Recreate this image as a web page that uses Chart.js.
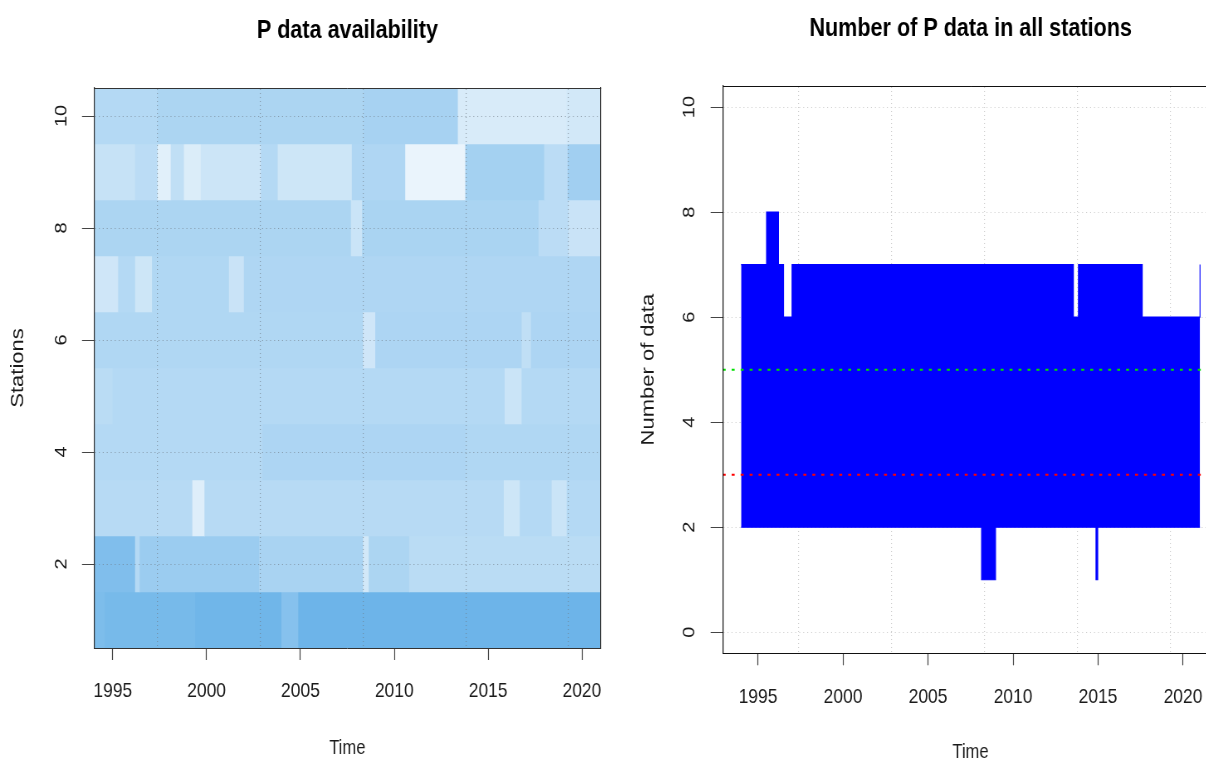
<!DOCTYPE html>
<html>
<head>
<meta charset="utf-8">
<script src="https://cdn.jsdelivr.net/npm/chart.js@4.4.0/dist/chart.umd.min.js"></script>
<style>
  html, body { margin: 0; padding: 0; background: #fff; overflow: hidden; width: 1206px; height: 761px; }
  /* the reference plot is horizontally squeezed, so both canvases are drawn wide and scaled in x */
  canvas { position: absolute; top: 0; transform-origin: 0 0; transform: scaleX(0.83); }
  #left { left: 0; }
  #right { left: 603px; }
</style>
</head>
<body>
<canvas id="left" width="837" height="761"></canvas>
<canvas id="right" width="886" height="766"></canvas>
<script>
// ---- data ----
const yearStart = 1994.0;
const yearEnd = 2021.0;
const stations = [1, 2, 3, 4, 5, 6, 7, 8, 9, 10];

// availability shading per station: segment start years and shade (0 = white, 1 = full blue)
const segStart = [
  [1994.0, 1994.6, 1999.4, 2004.0, 2004.9],
  [1994.0, 1996.2, 1996.45, 2002.8, 2008.35, 2008.65, 2010.8],
  [1994.0, 1999.25, 1999.9, 2015.85, 2016.7, 2018.4, 2019.2],
  [1994.0, 2003.0, 2013.8],
  [1994.0, 1995.0, 2015.9, 2016.8],
  [1994.0, 2008.35, 2009.0, 2016.8, 2017.3],
  [1994.0, 1995.3, 1996.2, 1997.1, 2001.2, 2002.0],
  [1994.0, 2007.7, 2008.3, 2017.7, 2019.3],
  [1994.0, 1996.2, 1997.4, 1998.1, 1998.8, 1999.7, 2002.9, 2003.8, 2007.75, 2010.6, 2013.8, 2018.0, 2019.25],
  [1994.0, 1997.4, 2008.4, 2013.4, 2019.2]
];
const segShade = [
  [0.86, 0.9, 0.95, 0.8, 0.97],
  [0.84, 0.5, 0.66, 0.57, 0.3, 0.55, 0.46],
  [0.48, 0.22, 0.48, 0.33, 0.5, 0.35, 0.5],
  [0.5, 0.54, 0.52],
  [0.46, 0.5, 0.35, 0.5],
  [0.52, 0.32, 0.54, 0.42, 0.54],
  [0.32, 0.5, 0.33, 0.52, 0.36, 0.53],
  [0.55, 0.35, 0.56, 0.45, 0.36],
  [0.38, 0.45, 0.2, 0.42, 0.24, 0.34, 0.5, 0.33, 0.53, 0.14, 0.6, 0.45, 0.62],
  [0.5, 0.55, 0.58, 0.26, 0.3]
];

// number of stations with data: step change years, upper and lower count
const stepYears = [1994.0, 1995.5, 1996.2, 1996.5, 1997.0, 2008.15, 2008.97, 2013.55, 2013.85, 2014.88, 2014.98, 2017.6, 2021.0];
const maxCount  = [7, 8, 7, 6, 7, 7, 7, 6, 7, 7, 7, 6, 7];
const minCount  = [2, 2, 2, 2, 2, 1, 2, 2, 2, 1, 2, 2, 2];
const lowLimit = 3;
const okLimit = 5;

const timeTicks = [1995, 2000, 2005, 2010, 2015, 2020];
const gridYears = [1997.38, 2002.86, 2008.33, 2013.81, 2019.28];
const stationTicks = [2, 4, 6, 8, 10];
const countTicks = [0, 2, 4, 6, 8, 10];

// ---- helpers ----
const font = "'Liberation Sans', Arial, sans-serif";

function shadeColor(v) {
  const r = Math.round(255 - v * (255 - 104));
  const g = Math.round(255 - v * (255 - 178));
  const b = Math.round(255 - v * (255 - 232));
  return `rgb(${r},${g},${b})`;
}

const setTicks = list => axis => { axis.ticks = list.map(v => ({ value: v })); };

// R style y tick labels, rotated to read bottom to top
const rotatedYLabels = {
  id: 'rotatedYLabels',
  afterDraw(chart, args, opts) {
    const scale = chart.scales.y;
    const ctx = chart.ctx;
    ctx.save();
    ctx.font = '20px ' + font;
    ctx.fillStyle = '#1a1a1a';
    ctx.textAlign = 'center';
    ctx.textBaseline = 'middle';
    scale.ticks.forEach(t => {
      ctx.save();
      ctx.translate(scale.right - opts.gap, scale.getPixelForValue(t.value));
      ctx.rotate(-Math.PI / 2);
      ctx.fillText(String(t.value), 0, 0);
      ctx.restore();
    });
    ctx.restore();
  }
};

// ---- left: heatmap ----
const cells = [];
const cellColors = [];
stations.forEach((s, i) => {
  segStart[i].forEach((x0, j) => {
    const x1 = j + 1 < segStart[i].length ? segStart[i][j + 1] : yearEnd;
    cells.push({ x: [x0, x1], y: s });
    cellColors.push(shadeColor(segShade[i][j]));
  });
});

new Chart(document.getElementById('left'), {
  type: 'bar',
  data: {
    datasets: [{
      data: cells,
      backgroundColor: cellColors,
      borderWidth: 0,
      borderSkipped: false,
      categoryPercentage: 1,
      barPercentage: 1
    }]
  },
  options: {
    indexAxis: 'y',
    responsive: false,
    animation: false,
    layout: { padding: 0 },
    plugins: {
      legend: { display: false },
      tooltip: { enabled: false },
      title: {
        display: true,
        text: 'P data availability',
        color: '#000',
        font: { family: font, size: 26, weight: 'bold' },
        padding: { top: 15, bottom: 41.8 }
      },
      rotatedYLabels: { gap: 38.6 }
    },
    scales: {
      x: {
        type: 'linear', axis: 'x', position: 'bottom',
        min: yearStart, max: yearEnd, beginAtZero: false,
        afterBuildTicks: setTicks(timeTicks),
        afterFit: axis => { axis.height = 113; },
        grid: { display: true, drawOnChartArea: false, drawTicks: true, tickLength: 12, tickColor: '#444', tickWidth: 1.2, z: 1 },
        border: { display: true, color: '#333', z: 1 },
        ticks: { color: '#1a1a1a', font: { family: font, size: 21 }, padding: 19, autoSkip: false, maxRotation: 0, callback: v => String(v) },
        title: { display: true, text: 'Time', color: '#1a1a1a', font: { family: font, size: 20 }, padding: { top: 0, bottom: 1 } }
      },
      xGrid: {
        type: 'linear', axis: 'x', position: 'top',
        min: yearStart, max: yearEnd,
        afterBuildTicks: setTicks(gridYears),
        afterFit: axis => { axis.height = 0; },
        grid: { display: true, drawOnChartArea: true, drawTicks: false, lineWidth: 1.2, color: 'rgba(110,120,130,0.6)', z: 1 },
        border: { display: true, color: '#333', dash: [1, 3], z: 1 },
        ticks: { display: false }
      },
      y: {
        type: 'linear', axis: 'y', position: 'left',
        min: 0.5, max: 10.5, offset: false,
        afterBuildTicks: setTicks(stationTicks),
        afterFit: axis => { axis.width = 113.3; },
        grid: { display: true, offset: false, drawOnChartArea: true, drawTicks: true, tickLength: 14.5, tickColor: '#444', color: 'rgba(110,120,130,0.6)', z: 1 },
        border: { display: true, color: '#333', width: 1.2, dash: [1.2, 3.6], z: 1 },
        ticks: { display: false },
        title: { display: true, text: 'Stations', color: '#1a1a1a', font: { family: font, size: 22 }, padding: { top: 8.5, bottom: 0 } }
      },
      yEdge: {
        type: 'linear', axis: 'y', position: 'right',
        min: 0.5, max: 10.5,
        afterFit: axis => { axis.width = 113.3; },
        grid: { display: false },
        border: { display: true, color: '#333', width: 1.2, z: 1 },
        ticks: { display: false }
      }
    }
  },
  plugins: [rotatedYLabels]
});

// ---- right: number of data ----
const upperPts = stepYears.map((x, i) => ({ x, y: maxCount[i] }));
const lowerPts = stepYears.map((x, i) => ({ x, y: minCount[i] }));
const xMin = yearStart - 0.04 * (yearEnd - yearStart);
const xMax = yearEnd + 0.04 * (yearEnd - yearStart);

new Chart(document.getElementById('right'), {
  type: 'line',
  data: {
    datasets: [
      { data: [{ x: xMin, y: lowLimit }, { x: xMax, y: lowLimit }], borderColor: '#ff0000', borderWidth: 2, borderDash: [3.6, 7.2], pointRadius: 0, fill: false },
      { data: [{ x: xMin, y: okLimit }, { x: xMax, y: okLimit }], borderColor: '#00e000', borderWidth: 2, borderDash: [3.6, 7.2], pointRadius: 0, fill: false },
      { data: upperPts, stepped: true, borderColor: '#0000ff', borderWidth: 1.2, backgroundColor: '#0000ff', pointRadius: 0, fill: '+1' },
      { data: lowerPts, stepped: true, borderColor: '#0000ff', borderWidth: 1.2, pointRadius: 0, fill: false }
    ]
  },
  options: {
    responsive: false,
    animation: false,
    layout: { padding: 0 },
    plugins: {
      legend: { display: false },
      tooltip: { enabled: false },
      title: {
        display: true,
        text: 'Number of P data in all stations',
        color: '#000',
        font: { family: font, size: 26, weight: 'bold' },
        padding: { top: 13, bottom: 41.8 }
      },
      rotatedYLabels: { gap: 39.8 }
    },
    scales: {
      x: {
        type: 'linear', axis: 'x', position: 'bottom',
        min: xMin, max: xMax,
        afterBuildTicks: setTicks(timeTicks),
        afterFit: axis => { axis.height = 112.7; },
        grid: { display: true, drawOnChartArea: false, drawTicks: true, tickLength: 12, tickColor: '#444', tickWidth: 1.2 },
        border: { display: true, color: '#111', z: 1 },
        ticks: { color: '#1a1a1a', font: { family: font, size: 21 }, padding: 19, autoSkip: false, maxRotation: 0, callback: v => String(v) },
        title: { display: true, text: 'Time', color: '#1a1a1a', font: { family: font, size: 20 }, padding: { top: 0, bottom: 2 } }
      },
      xGrid: {
        type: 'linear', axis: 'x', position: 'top',
        min: xMin, max: xMax,
        afterBuildTicks: setTicks(gridYears),
        afterFit: axis => { axis.height = 0; },
        grid: { display: true, drawOnChartArea: true, drawTicks: false, lineWidth: 1.2, color: '#cfcfcf' },
        border: { display: true, color: '#111', dash: [1, 3], z: 1 },
        ticks: { display: false }
      },
      y: {
        type: 'linear', axis: 'y', position: 'left',
        min: -0.4, max: 10.4,
        afterBuildTicks: setTicks(countTicks),
        afterFit: axis => { axis.width = 144.2; },
        grid: { display: true, drawOnChartArea: true, drawTicks: true, tickLength: 14.5, tickColor: '#444', color: '#cfcfcf' },
        border: { display: true, color: '#111', width: 1.2, dash: [1.2, 3.6], z: 1 },
        ticks: { display: false },
        title: { display: true, text: 'Number of data', color: '#1a1a1a', font: { family: font, size: 22 }, padding: { top: 42, bottom: 0 } }
      },
      yEdge: {
        type: 'linear', axis: 'y', position: 'right',
        min: -0.4, max: 10.4,
        afterFit: axis => { axis.width = 144.6; },
        grid: { display: false },
        border: { display: true, color: '#111', width: 1.2, z: 1 },
        ticks: { display: false }
      }
    }
  },
  plugins: [rotatedYLabels]
});
</script>
</body>
</html>
